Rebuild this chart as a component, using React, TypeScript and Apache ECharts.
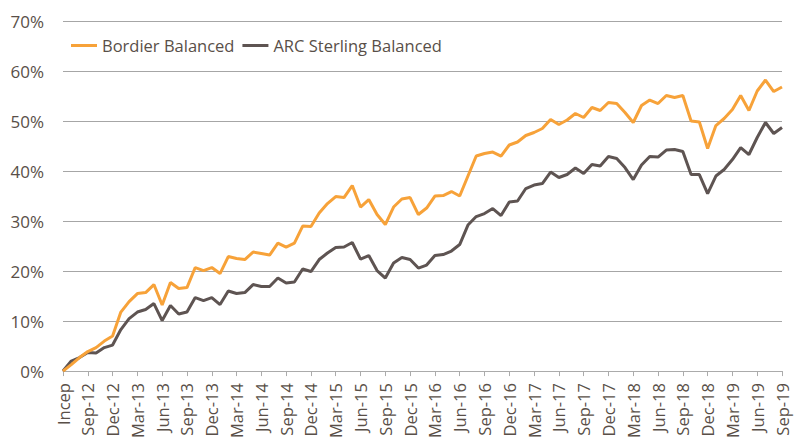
import React, { useEffect, useRef } from "react";
import * as echarts from "echarts";

const categories = [
  "Incep", "Jul-12", "Aug-12", "Sep-12", "Oct-12", "Nov-12", "Dec-12",
  "Jan-13", "Feb-13", "Mar-13", "Apr-13", "May-13", "Jun-13", "Jul-13", "Aug-13", "Sep-13", "Oct-13", "Nov-13", "Dec-13",
  "Jan-14", "Feb-14", "Mar-14", "Apr-14", "May-14", "Jun-14", "Jul-14", "Aug-14", "Sep-14", "Oct-14", "Nov-14", "Dec-14",
  "Jan-15", "Feb-15", "Mar-15", "Apr-15", "May-15", "Jun-15", "Jul-15", "Aug-15", "Sep-15", "Oct-15", "Nov-15", "Dec-15",
  "Jan-16", "Feb-16", "Mar-16", "Apr-16", "May-16", "Jun-16", "Jul-16", "Aug-16", "Sep-16", "Oct-16", "Nov-16", "Dec-16",
  "Jan-17", "Feb-17", "Mar-17", "Apr-17", "May-17", "Jun-17", "Jul-17", "Aug-17", "Sep-17", "Oct-17", "Nov-17", "Dec-17",
  "Jan-18", "Feb-18", "Mar-18", "Apr-18", "May-18", "Jun-18", "Jul-18", "Aug-18", "Sep-18", "Oct-18", "Nov-18", "Dec-18",
  "Jan-19", "Feb-19", "Mar-19", "Apr-19", "May-19", "Jun-19", "Jul-19", "Aug-19", "Sep-19",
];

const bordierBalanced = [
  0, 1.3, 2.7, 3.9, 4.7, 6.0, 7.0, 11.8, 13.9, 15.5,
  15.7, 17.3, 13.2, 17.7, 16.5, 16.7, 20.7, 20.1, 20.7, 19.5,
  22.9, 22.5, 22.3, 23.8, 23.5, 23.2, 25.6, 24.8, 25.6, 29.0,
  28.9, 31.6, 33.5, 34.9, 34.7, 37.1, 32.8, 34.3, 31.3, 29.3,
  32.8, 34.4, 34.7, 31.3, 32.6, 35.0, 35.1, 35.9, 35.0, 39.0,
  43.0, 43.5, 43.8, 43.0, 45.2, 45.8, 47.1, 47.7, 48.5, 50.3,
  49.3, 50.2, 51.5, 50.7, 52.7, 52.1, 53.7, 53.5, 51.7, 49.7,
  53.1, 54.2, 53.5, 55.1, 54.7, 55.1, 50.0, 49.8, 44.5, 49.1,
  50.5, 52.3, 55.1, 52.1, 56.0, 58.2, 55.9, 56.8,
];

const arcSterlingBalanced = [
  0, 2.0, 2.7, 3.7, 3.6, 4.7, 5.2, 8.3, 10.5, 11.8,
  12.3, 13.5, 10.1, 13.1, 11.4, 11.8, 14.7, 14.1, 14.7, 13.3,
  16.0, 15.5, 15.7, 17.3, 16.9, 16.9, 18.6, 17.6, 17.8, 20.4,
  19.9, 22.3, 23.6, 24.7, 24.8, 25.7, 22.4, 23.1, 20.1, 18.6,
  21.6, 22.7, 22.3, 20.6, 21.2, 23.1, 23.3, 24.0, 25.3, 29.2,
  30.9, 31.5, 32.5, 31.1, 33.8, 34.0, 36.5, 37.2, 37.5, 39.8,
  38.7, 39.3, 40.6, 39.5, 41.3, 41.0, 42.9, 42.5, 40.7, 38.3,
  41.2, 42.9, 42.8, 44.2, 44.3, 43.9, 39.3, 39.3, 35.5, 39.0,
  40.3, 42.3, 44.7, 43.3, 46.7, 49.7, 47.5, 48.7,
];

const seriesNames = ["Bordier Balanced", "ARC Sterling Balanced"];
const colors = ["#F7A239", "#5E5452"];
const textColor = "#594F48";
const fontFamily = "'Open Sans', 'Noto Sans', sans-serif";

export default function App() {
  const ref = useRef<HTMLDivElement>(null);
  useEffect(() => {
    if (!ref.current) return;
    const chart = echarts.init(ref.current, null, { renderer: "svg" });
    chart.setOption({
      animation: false,
      color: colors,
      textStyle: { fontFamily, color: textColor },
      grid: { left: 63, right: 19, top: 21, bottom: 69, containLabel: false },
      legend: {
        left: 66,
        top: 32,
        itemWidth: 26,
        itemHeight: 3,
        itemGap: 8,
        icon: "rect",
        textStyle: { fontSize: 16.5, color: textColor, fontFamily },
        data: seriesNames,
      },
      xAxis: {
        type: "category",
        data: categories,
        boundaryGap: false,
        axisLine: { lineStyle: { color: "#ABABAB", width: 1 } },
        axisTick: { interval: 2, length: 5, lineStyle: { color: "#ABABAB" } },
        axisLabel: {
          interval: 2,
          rotate: 90,
          margin: 12,
          fontSize: 16.5,
          color: textColor,
          fontFamily,
        },
        splitLine: { show: false },
      },
      yAxis: {
        type: "value",
        min: 0,
        max: 70,
        interval: 10,
        axisLine: { show: false },
        axisTick: { show: false },
        axisLabel: {
          formatter: "{value}%",
          margin: 19,
          fontSize: 17,
          color: textColor,
          fontFamily,
        },
        splitLine: { lineStyle: { color: "#A6A6A6", width: 1 } },
      },
      series: [
        {
          name: seriesNames[1],
          type: "line",
          data: arcSterlingBalanced,
          symbol: "none",
          lineStyle: { width: 3, color: colors[1] },
          itemStyle: { color: colors[1] },
          z: 2,
        },
        {
          name: seriesNames[0],
          type: "line",
          data: bordierBalanced,
          symbol: "none",
          lineStyle: { width: 3, color: colors[0] },
          itemStyle: { color: colors[0] },
          z: 3,
        },
      ],
    });
    return () => chart.dispose();
  }, []);
  return <div ref={ref} style={{ width: 801, height: 441, position: "absolute", left: 0, top: 0 }} />;
}
